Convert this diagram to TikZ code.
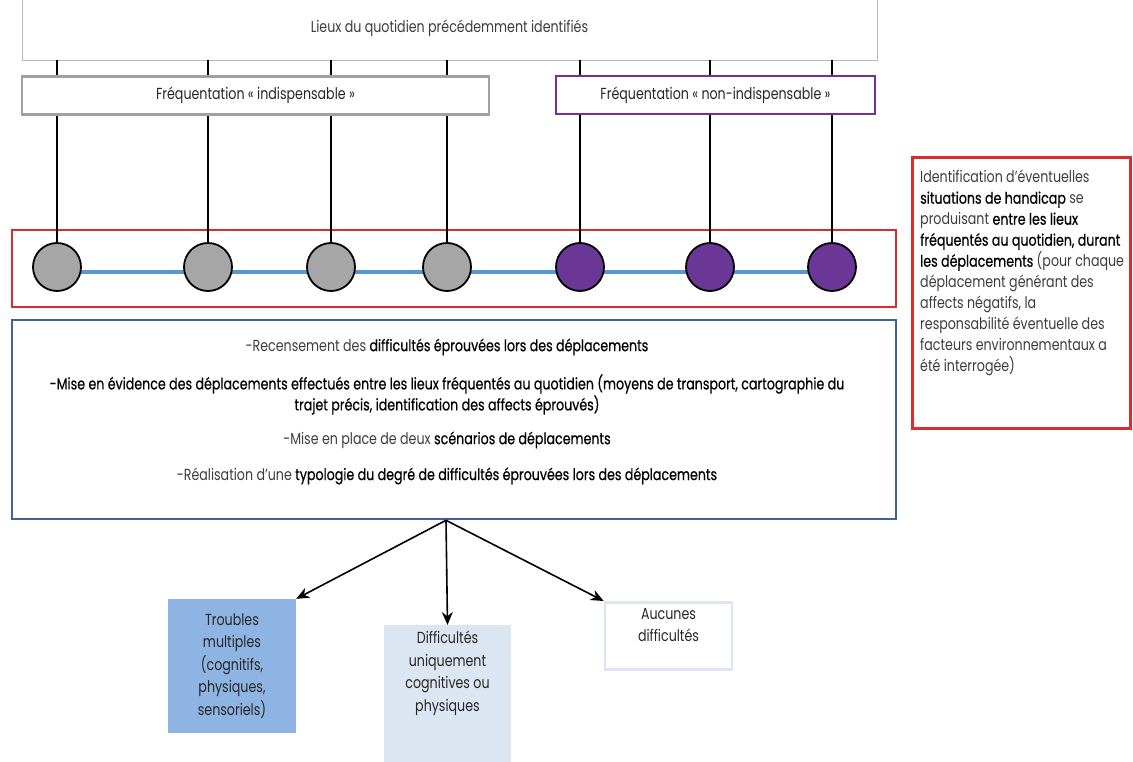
\documentclass[tikz,border=0pt]{standalone}
\usepackage{fontspec}
\setmainfont{Poppins}[FakeStretch=0.79]
\newfontfamily\medfont{Poppins}[FakeStretch=0.79, FakeBold=0.5]
\usepackage{tikz}
\usetikzlibrary{positioning, arrows.meta, backgrounds}
\usepackage{xcolor}

\definecolor{txtgray}{RGB}{60,60,60}
\definecolor{boxgray}{RGB}{160,160,160}
\definecolor{placegray}{RGB}{166,166,166}
\definecolor{boxpurple}{RGB}{112,48,160}
\definecolor{placepurple}{RGB}{107,55,150}
\definecolor{redline}{RGB}{220,45,45}
\definecolor{blocblue}{RGB}{65,98,148}
\definecolor{routeblue}{RGB}{91,150,210}
\definecolor{troublesblue}{RGB}{142,180,227}
\definecolor{diffblue}{RGB}{220,230,242}

\newcommand{\fort}[1]{{\medfont\color{black}#1}}

\begin{document}
\begin{tikzpicture}[
    x=1pt, y=-1pt,
    font=\fontsize{16}{21}\selectfont, text=txtgray,
    lieubox/.style={rectangle, draw=gray!55, line width=0.6pt, minimum width=855pt, minimum height=64pt},
    freqbox/.style={rectangle, draw=#1, fill=white, line width=2.6pt, minimum height=38pt, text=black!85},
    place/.style={circle, draw=black, line width=1.8pt, minimum size=48pt, inner sep=0pt},
    tick/.style={line width=1.6pt, black},
    route/.style={line width=4pt, routeblue},
    zone/.style={rectangle, draw=#1, line width=2.6pt, inner sep=0pt},
    typo/.style={rectangle, align=center, inner sep=0pt, minimum width=127pt, text=black!85, font=\fontsize{16}{22.5}\selectfont},
    arrow/.style={-{Stealth[length=13pt, width=11pt]}, line width=1.6pt}
]
    \useasboundingbox (0,0) rectangle (1133,762);

    % Nodes
    \node[lieubox] (lieux) at (449.5,28) {Lieux du quotidien précédemment identifiés};
    \node[zone=redline, minimum width=884pt, minimum height=77pt] (zone) at (454,268.5) {};
    \foreach \x [count=\i] in {57,208,331,447}
        \node[place, fill=placegray] (c\i) at (\x,267) {};
    \foreach \x [count=\i from 5] in {580,710,832}
        \node[place, fill=placepurple] (c\i) at (\x,267) {};

    % Edges
    \foreach \i in {1,...,7}
        \draw[tick] (c\i.north) -- (c\i |- lieux.south);
    \begin{scope}[on background layer]
        \draw[route] ([yshift=-5pt]c1.center) -- ([yshift=-5pt]c7.center);
    \end{scope}

    \node[freqbox=boxgray, minimum width=467pt] (indisp) at (255.5,95.5) {Fréquentation « indispensable »};
    \node[freqbox=boxpurple, minimum width=319pt] (nonind) at (715.5,95) {Fréquentation « non-indispensable »};

    % Bloc des déplacements
    \node[zone=blocblue, minimum width=884pt, minimum height=199pt] (bloc) at (454,419.5) {};
    \node (r1) at (447,347) {-Recensement des \fort{difficultés éprouvées lors des déplacements}};
    \node[align=center] (r2) at (447,394.5) {\fort{-Mise en évidence des déplacements effectués entre les lieux fréquentés au quotidien (moyens de transport, cartographie du}\\ \fort{trajet précis, identification des affects éprouvés)}};
    \node (r3) at (447,440) {-Mise en place de deux \fort{scénarios de déplacements}};
    \node (r4) at (447,476) {-Réalisation d’une \fort{typologie du degré de difficultés éprouvées lors des déplacements}};

    % Note
    \node[zone=redline, minimum width=218pt, minimum height=271pt, anchor=north west] (note) at (911,156) {};
    \node[align=left, anchor=north west, inner sep=0pt] (notetxt) at (920,170) {Identification d’éventuelles\\ \fort{situations de handicap} se\\ produisant \fort{entre les lieux}\\ \fort{fréquentés au quotidien, durant}\\ \fort{les déplacements} (pour chaque\\ déplacement générant des\\ affects négatifs, la\\ responsabilité éventuelle des\\ facteurs environnementaux a\\ été interrogée)};

    % Typologie
    \node[typo, fill=troublesblue, minimum width=128pt, minimum height=134pt] (troubles) at (232,666) {Troubles\\multiples\\(cognitifs,\\physiques,\\sensoriels)};
    \node[typo, fill=diffblue, minimum height=150pt, anchor=north] (diff) at (447.5,625) {};
    \node[typo, anchor=north] (difftxt) at (447.5,631) {Difficultés\\uniquement\\cognitives ou\\physiques};
    \node[typo, draw=diffblue, line width=2.6pt, minimum height=67pt, anchor=north] (aucun) at (668.5,601) {};
    \node[typo, anchor=north] (auctxt) at (668.5,608) {Aucunes\\difficultés};

    \coordinate (src) at ([xshift=-8pt]bloc.south);
    \draw[arrow] (src) -- (troubles.north east);
    \draw[arrow] (src) -- (diff.north);
    \draw[arrow] (src) -- (aucun.north west);
\end{tikzpicture}
\end{document}
